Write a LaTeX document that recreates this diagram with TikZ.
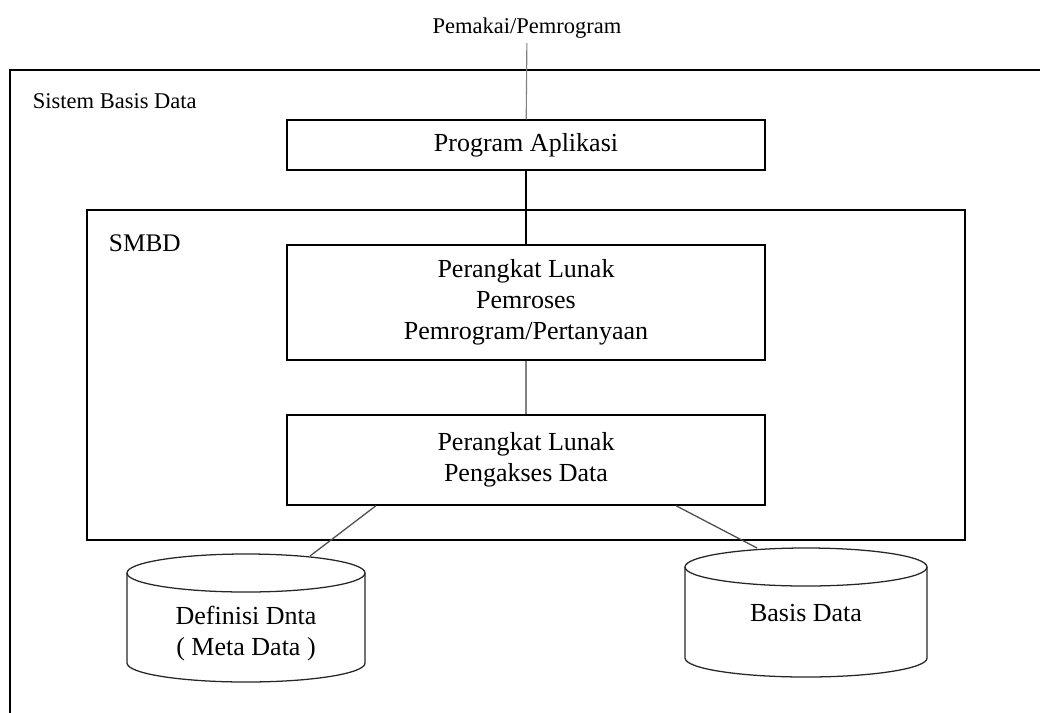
\documentclass[tikz,border=0pt]{standalone}
\usepackage{fontspec}
\setmainfont{Liberation Serif}
\usetikzlibrary{positioning, calc}

\tikzset{
  kotak/.style={draw, line width=1pt, minimum width=11.95cm, align=center,
    font=\fontsize{18.5}{22}\selectfont},
  judul/.style={anchor=west, font=\fontsize{16}{19}\selectfont},
  tabung/.style={line width=0.9pt, black!85},
}

\begin{document}
\begin{tikzpicture}[x=0.025cm, y=-0.025cm]
    \useasboundingbox (0,0) rectangle (1040,712);
    % Sistem Basis Data
    \draw[line width=1pt] (10,730) -- (10,70) -- (1060,70);
    \node[judul] (sbd) at (28,101) {Sistem Basis Data};
    \node[font=\fontsize{16}{19}\selectfont] (pemakai) at (527,28) {Pemakai/Pemrogram};
    % Kotak
    \node[kotak, minimum height=1.25cm] (aplikasi) at (526,145) {Program Aplikasi};
    \draw[line width=1pt] (87,210) rectangle (965,540);
    \node[judul, font=\fontsize{18}{20}\selectfont] (smbd) at (104,243) {SMBD};
    \node[kotak, minimum height=2.875cm] (pemroses) at (526,302.5)
      {Perangkat Lunak\\Pemroses\\Pemrogram/Pertanyaan};
    \node[kotak, minimum height=2.25cm] (pengakses) at (526,460)
      {Perangkat Lunak\\Pengakses Data};
    % Tabung
    \draw[tabung] (127,573) -- (127,663) arc[start angle=180, end angle=360,
      x radius=2.975cm, y radius=0.475cm] -- (365,573);
    \draw[tabung] (246,573) ellipse [x radius=2.975cm, y radius=0.475cm];
    \node[align=center, font=\fontsize{18.5}{22}\selectfont] (definisi) at (246,634)
      {Definisi Dnta\\( Meta Data )};
    \coordinate (definisi atas) at (310,556);
    \draw[tabung] (685,567) -- (685,658) arc[start angle=180, end angle=360,
      x radius=3.025cm, y radius=0.475cm] -- (927,567);
    \draw[tabung] (806,567) ellipse [x radius=3.025cm, y radius=0.475cm];
    \node[font=\fontsize{18.5}{22}\selectfont] (basis) at (806,613) {Basis Data};
    \coordinate (basis atas) at (757,548);
    % Garis
    \draw[gray, line width=0.8pt] (pemakai) -- (aplikasi);
    \draw[line width=1pt] (aplikasi) -- (pemroses);
    \draw[gray, line width=0.8pt] (pemroses) -- (pengakses);
    \draw[black!70, line width=0.9pt] ([xshift=-3.75cm]pengakses.south) -- (definisi atas);
    \draw[black!70, line width=0.9pt] ([xshift=3.75cm]pengakses.south) -- (basis atas);
  \end{tikzpicture}
\end{document}
